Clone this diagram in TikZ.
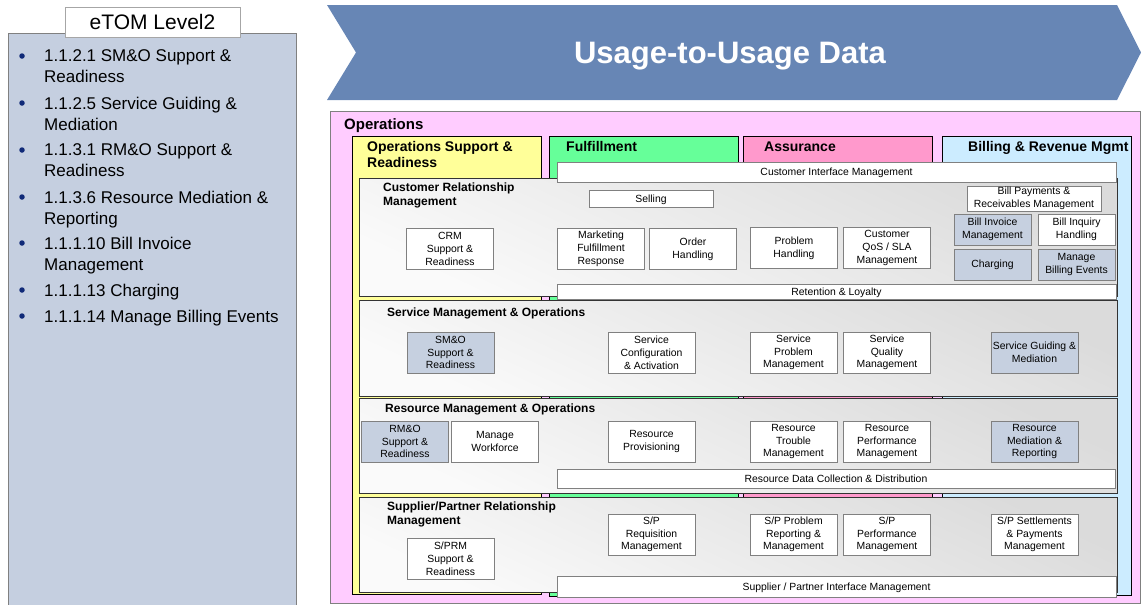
\documentclass[tikz,border=0pt]{standalone}
\usepackage{fontspec}
\setmainfont{Liberation Sans}
\usepackage{tikz}
\usetikzlibrary{positioning,shapes}
\definecolor{chevblue}{RGB}{103,134,181}
\definecolor{panelblue}{RGB}{197,207,224}
\definecolor{opspink}{RGB}{255,204,255}
\definecolor{osryellow}{RGB}{255,255,153}
\definecolor{fulgreen}{RGB}{102,255,153}
\definecolor{asrpink}{RGB}{255,153,204}
\definecolor{brmblue}{RGB}{204,236,255}
\definecolor{hiblue}{RGB}{198,208,224}
\definecolor{edgegrey}{RGB}{128,128,128}
\definecolor{bulletnavy}{RGB}{16,42,120}
\newcommand{\procfont}{\fontsize{10.4}{12.8}\selectfont}
\newcommand{\bandfont}{\fontsize{12}{14.3}\selectfont\bfseries}
\newcommand{\colfont}{\fontsize{14}{16}\selectfont\bfseries}
\newcommand{\opsfont}{\fontsize{15}{18}\selectfont\bfseries}
\newcommand{\listfont}{\fontsize{17}{21}\selectfont}
\newcommand{\headfont}{\fontsize{21}{24}\selectfont}
\newcommand{\titlefont}{\fontsize{31}{36}\selectfont\bfseries}
\tikzstyle{listpanel}=[rectangle, draw=edgegrey, fill=panelblue, inner sep=0pt]
\tikzstyle{listhead}=[rectangle, draw=edgegrey!70, fill=white, font=\headfont, inner sep=0pt]
\tikzstyle{listitem}=[anchor=north west, align=left, font=\listfont, inner sep=0pt]
\tikzstyle{bulletdot}=[circle, fill=bulletnavy, minimum size=5.5pt, inner sep=0pt]
\tikzstyle{titletext}=[font=\titlefont, text=white, inner sep=0pt]
\tikzstyle{opsarea}=[rectangle, draw=edgegrey, fill=opspink, inner sep=0pt]
\tikzstyle{colarea}=[rectangle, draw=black, inner sep=0pt]
\tikzstyle{coltitle}=[anchor=west, align=left, font=\colfont, inner sep=0pt]
\tikzstyle{bandbox}=[rectangle, draw=black!80, top color=black!14, bottom color=black!2, shading angle=-25, inner sep=0pt]
\tikzstyle{bandtitle}=[anchor=west, align=left, font=\bandfont, inner sep=0pt]
\tikzstyle{barbox}=[rectangle, draw=edgegrey, fill=white, font=\procfont, text depth=0pt, inner sep=0pt]
\tikzstyle{procbox}=[rectangle, draw=edgegrey, fill=white, minimum width=87pt, minimum height=41pt, align=center, font=\procfont, inner sep=1pt]
\tikzstyle{hibox}=[procbox, fill=hiblue]
\tikzstyle{billbox}=[procbox, minimum width=77pt, minimum height=31pt]
\begin{document}
\begin{tikzpicture}[x=1pt,y=-1pt]
  \useasboundingbox (0,0) rectangle (1141,605);
  % eTOM level 2 list
  \node[listpanel, minimum width=288pt, minimum height=576pt] (panel) at (152,321) {};
  \node[listhead, minimum width=175pt, minimum height=30pt] (head) at (152.5,22) {eTOM Level2};
  \node[bulletdot] (b1) at (22,56) {};
  \node[listitem] (i1) at (44,49.5) {1.1.2.1 SM\&O Support \&\\Readiness};
  \node[bulletdot] (b2) at (22,103) {};
  \node[listitem] (i2) at (44,96.5) {1.1.2.5 Service Guiding \&\\Mediation};
  \node[bulletdot] (b3) at (22,150) {};
  \node[listitem] (i3) at (44,143.5) {1.1.3.1 RM\&O Support \&\\Readiness};
  \node[bulletdot] (b4) at (22,197) {};
  \node[listitem] (i4) at (44,190.5) {1.1.3.6 Resource Mediation \&\\Reporting};
  \node[bulletdot] (b5) at (22,243) {};
  \node[listitem] (i5) at (44,236.5) {1.1.1.10 Bill Invoice\\Management};
  \node[bulletdot] (b6) at (22,290) {};
  \node[listitem] (i6) at (44,283.5) {1.1.1.13 Charging};
  \node[bulletdot] (b7) at (22,316) {};
  \node[listitem] (i7) at (44,309.5) {1.1.1.14 Manage Billing Events};
  % chevron
  \fill[chevblue] (327,5) -- (1117,5) -- (1141,52.5) -- (1117,100) -- (327,100) -- (356,52.5) -- cycle;
  \node[titletext] (title) at (730,56) {Usage-to-Usage Data};
  % operations area and columns
  \node[opsarea, minimum width=810pt, minimum height=492pt] (ops) at (735,357) {};
  \node[anchor=west, font=\opsfont, inner sep=0pt] (opstitle) at (344,126) {Operations};
  \node[colarea, fill=osryellow, minimum width=189pt, minimum height=458pt] (osr) at (446.5,365) {};
  \node[colarea, fill=fulgreen, minimum width=189pt, minimum height=460pt] (ful) at (643.5,366) {};
  \node[colarea, fill=asrpink, minimum width=189pt, minimum height=460pt] (asr) at (837.5,366) {};
  \node[colarea, fill=brmblue, minimum width=189pt, minimum height=459pt] (brm) at (1036.5,365.5) {};
  \node[coltitle, anchor=north west] (osrtitle) at (367,141) {Operations Support \&\\Readiness};
  \node[coltitle] (fultitle) at (566,146.5) {Fulfillment};
  \node[coltitle] (asrtitle) at (764,147) {Assurance};
  \node[coltitle] (brmtitle) at (968,148) {Billing \& Revenue Mgmt};
  % horizontal bands
  \node[bandbox, minimum width=758pt, minimum height=118pt] (crm) at (738,237) {};
  \node[bandbox, minimum width=758pt, minimum height=96pt] (smo) at (738,348) {};
  \node[bandbox, minimum width=758pt, minimum height=95pt] (rmo) at (738,445.5) {};
  \node[bandbox, minimum width=758pt, minimum height=95pt] (sprm) at (738,544.5) {};
  \node[bandtitle, anchor=north west] (crmtitle) at (383,182.5) {Customer Relationship\\Management};
  \node[bandtitle] (smotitle) at (387,313) {Service Management \& Operations};
  \node[bandtitle] (rmotitle) at (385,409.5) {Resource Management \& Operations};
  \node[bandtitle, anchor=north west] (sprmtitle) at (387,501.5) {Supplier/Partner Relationship\\Management};
  % cross-column bars
  \node[barbox, minimum width=559pt, minimum height=20pt] (cim) at (836.5,172) {Customer Interface Management};
  \node[barbox, minimum width=559pt, minimum height=15pt] (retl) at (836.5,291.5) {Retention \& Loyalty};
  \node[barbox, minimum width=558pt, minimum height=19pt] (rdcd) at (836,478.5) {Resource Data Collection \& Distribution};
  \node[barbox, minimum width=559pt, minimum height=21pt] (spim) at (836.5,586.5) {Supplier / Partner Interface Management};
  % CRM processes
  \node[barbox, minimum width=124pt, minimum height=17pt] (sell) at (651,198.5) {Selling};
  \node[procbox] (crmsr) at (450,249) {CRM\\Support \&\\Readiness};
  \node[procbox] (mktfr) at (601,249) {Marketing\\Fulfillment\\Response};
  \node[procbox] (ordh) at (693,249) {Order\\Handling};
  \node[procbox] (probh) at (794,248) {Problem\\Handling};
  \node[procbox] (qos) at (887,248) {Customer\\QoS / SLA\\Management};
  \node[procbox, minimum width=134pt, minimum height=25pt] (bpr) at (1034,198.5) {Bill Payments \&\\Receivables Management};
  \node[billbox, fill=hiblue] (bim) at (992.5,229.5) {Bill Invoice\\Management};
  \node[billbox] (bih) at (1076.5,229.5) {Bill Inquiry\\Handling};
  \node[billbox, fill=hiblue] (chg) at (992.5,264.5) {Charging};
  \node[billbox, fill=hiblue] (mbe) at (1076.5,264.5) {Manage\\Billing Events};
  % SM&O processes
  \node[hibox] (smosr) at (450.5,352.5) {SM\&O\\Support \&\\Readiness};
  \node[procbox] (sca) at (651.5,352.5) {Service\\Configuration\\\& Activation};
  \node[procbox] (spm) at (793.5,352.5) {Service\\Problem\\Management};
  \node[procbox] (sqm) at (887,352.5) {Service\\Quality\\Management};
  \node[hibox] (sgm) at (1034.5,352.5) {Service Guiding \&\\Mediation};
  % RM&O processes
  \node[hibox] (rmosr) at (405,441.5) {RM\&O\\Support \&\\Readiness};
  \node[procbox] (mwf) at (495,441.5) {Manage\\Workforce};
  \node[procbox] (rprov) at (651.5,441.5) {Resource\\Provisioning};
  \node[procbox] (rtm) at (793.5,441.5) {Resource\\Trouble\\Management};
  \node[procbox] (rpm) at (887,441.5) {Resource\\Performance\\Management};
  \node[hibox] (rmr) at (1034.5,441.5) {Resource\\Mediation \&\\Reporting};
  % S/PRM processes
  \node[procbox] (sprmsr) at (450.5,558.5) {S/PRM\\Support \&\\Readiness};
  \node[procbox] (spreq) at (651.5,534.5) {S/P\\Requisition\\Management};
  \node[procbox] (spprob) at (793.5,534.5) {S/P Problem\\Reporting \&\\Management};
  \node[procbox] (spperf) at (887,534.5) {S/P\\Performance\\Management};
  \node[procbox] (spsett) at (1034.5,534.5) {S/P Settlements\\\& Payments\\Management};
\end{tikzpicture}
\end{document}
